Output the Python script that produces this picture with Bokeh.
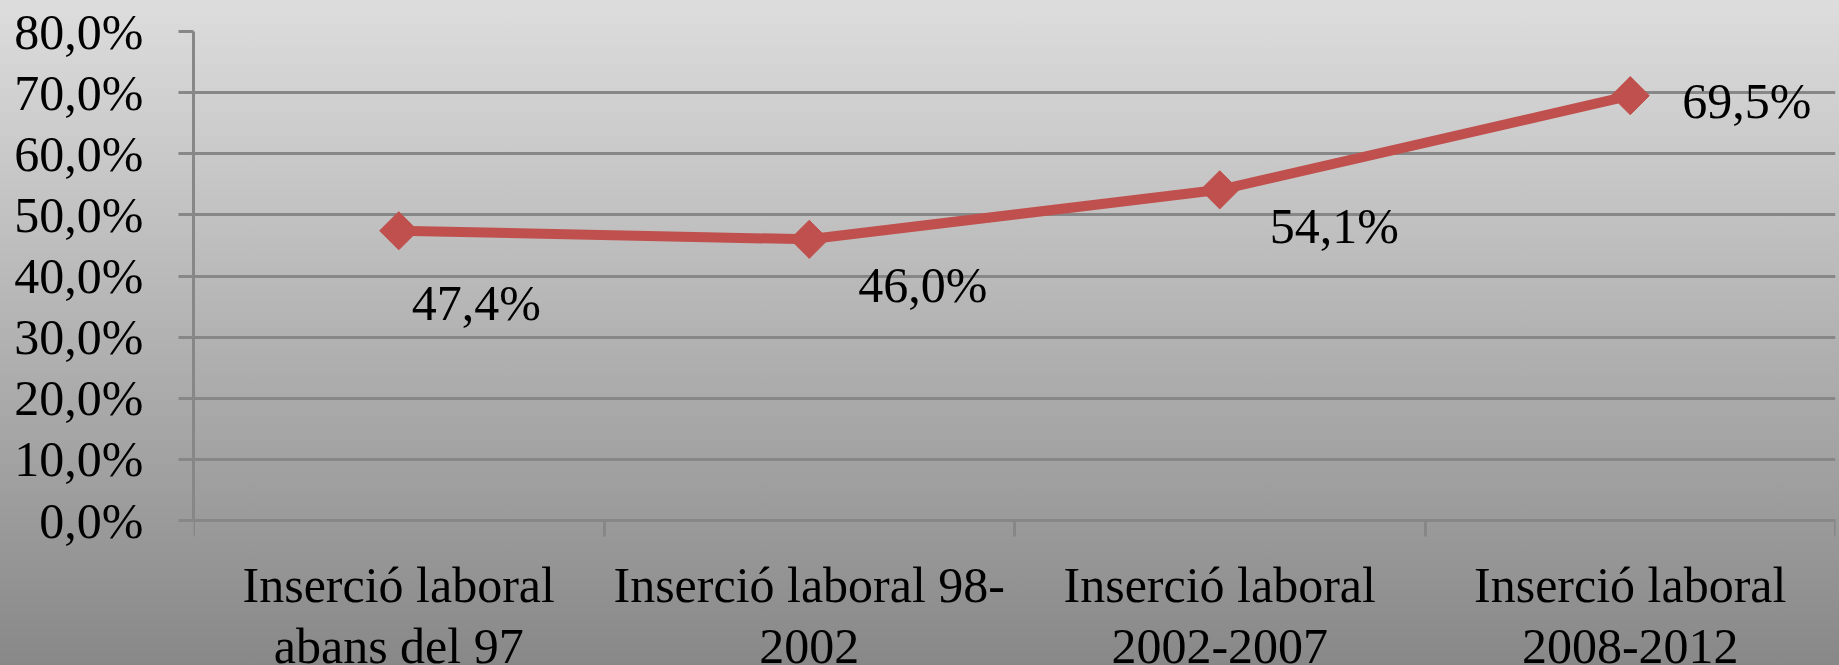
import numpy as np
from bokeh.plotting import figure
from bokeh.models import ColumnDataSource, FixedTicker, Range1d
from bokeh.core.properties import value
from bokeh.embed import file_html
from bokeh.resources import INLINE

# ---- data ----
categories = [
    "Inserció laboral\nabans del 97",
    "Inserció laboral 98-\n2002",
    "Inserció laboral\n2002-2007",
    "Inserció laboral\n2008-2012",
]
values = [47.4, 46.0, 54.1, 69.5]
value_labels = ["47,4%", "46,0%", "54,1%", "69,5%"]
y_ticks = [0, 10, 20, 30, 40, 50, 60, 70, 80]
y_tick_labels = ["0,0%", "10,0%", "20,0%", "30,0%", "40,0%", "50,0%", "60,0%", "70,0%", "80,0%"]

# ---- styles / layout ----
label_dx = [13, 49, 50, 52]
label_dy = [72, 46, 36, 5]
FONT = "Liberation Serif"
RED = "#C0504D"
GRID = "#878787"
W, H = 1839, 665
LEFT, RIGHT, TOP = 193, 4, 31
PLOT_H = 489  # pixel height of the 0..80 span

n = len(categories)
xs = [i + 0.5 for i in range(n)]
ymax = y_ticks[-1]
px_per_unit = PLOT_H / (ymax - y_ticks[0])
ymin = y_ticks[0] - (H - TOP - PLOT_H) / px_per_unit  # room for category labels

src = ColumnDataSource(dict(x=xs, y=values, lab=value_labels, dx=label_dx, dy=label_dy))

p = figure(width=W, height=H, x_range=Range1d(0, n), y_range=Range1d(ymin, ymax),
           output_backend="svg", toolbar_location=None,
           min_border_left=LEFT, min_border_right=RIGHT, min_border_top=TOP, min_border_bottom=0)
p.background_fill_alpha = 0
p.border_fill_alpha = 0
p.outline_line_color = None
p.styles = {"background": "linear-gradient(to bottom, #DDDDDD 0%, #888888 100%)"}

# y axis
p.yaxis.ticker = FixedTicker(ticks=y_ticks)
p.yaxis.bounds = (y_ticks[0], ymax)
p.yaxis.major_label_overrides = {t: l for t, l in zip(y_ticks, y_tick_labels)}
p.yaxis.major_label_text_font = FONT
p.yaxis.major_label_text_font_size = "50px"
p.yaxis.major_label_text_color = "black"
p.yaxis.major_label_standoff = 35
p.yaxis.major_tick_out = 15
p.yaxis.major_tick_in = 0
p.yaxis.minor_tick_line_color = None
p.yaxis.axis_line_color = GRID
p.yaxis.axis_line_width = 3
p.yaxis.major_tick_line_color = GRID
p.yaxis.major_tick_line_width = 3

# x axis drawn at y = 0
xa = p.xaxis[0]
xa.fixed_location = y_ticks[0]
xa.ticker = FixedTicker(ticks=xs, minor_ticks=list(range(n + 1)))
xa.major_label_overrides = {x: c for x, c in zip(xs, categories)}
xa.major_label_text_font = FONT
xa.major_label_text_font_size = "50px"
xa.major_label_text_color = "black"
xa.major_label_text_line_height = 1.1
xa.major_label_standoff = 20
xa.major_tick_out = 0
xa.major_tick_in = 0
xa.major_tick_line_color = None
xa.minor_tick_out = 16
xa.minor_tick_in = 0
xa.minor_tick_line_color = GRID
xa.minor_tick_line_width = 3
xa.axis_line_color = GRID
xa.axis_line_width = 3

p.xgrid.visible = False
p.ygrid.ticker = FixedTicker(ticks=y_ticks)
p.ygrid.grid_line_color = GRID
p.ygrid.grid_line_width = 3

p.line("x", "y", source=src, line_color=RED, line_width=10)
p.scatter("x", "y", source=src, marker="square", angle=np.pi / 4, size=27,
          fill_color=RED, line_color=RED)
p.text("x", "y", text="lab", source=src, x_offset="dx", y_offset="dy",
       text_font=value(FONT), text_font_size="50px", text_color="black",
       text_align="left", text_baseline="middle")

open("out.html", "w").write(file_html(p, INLINE))
